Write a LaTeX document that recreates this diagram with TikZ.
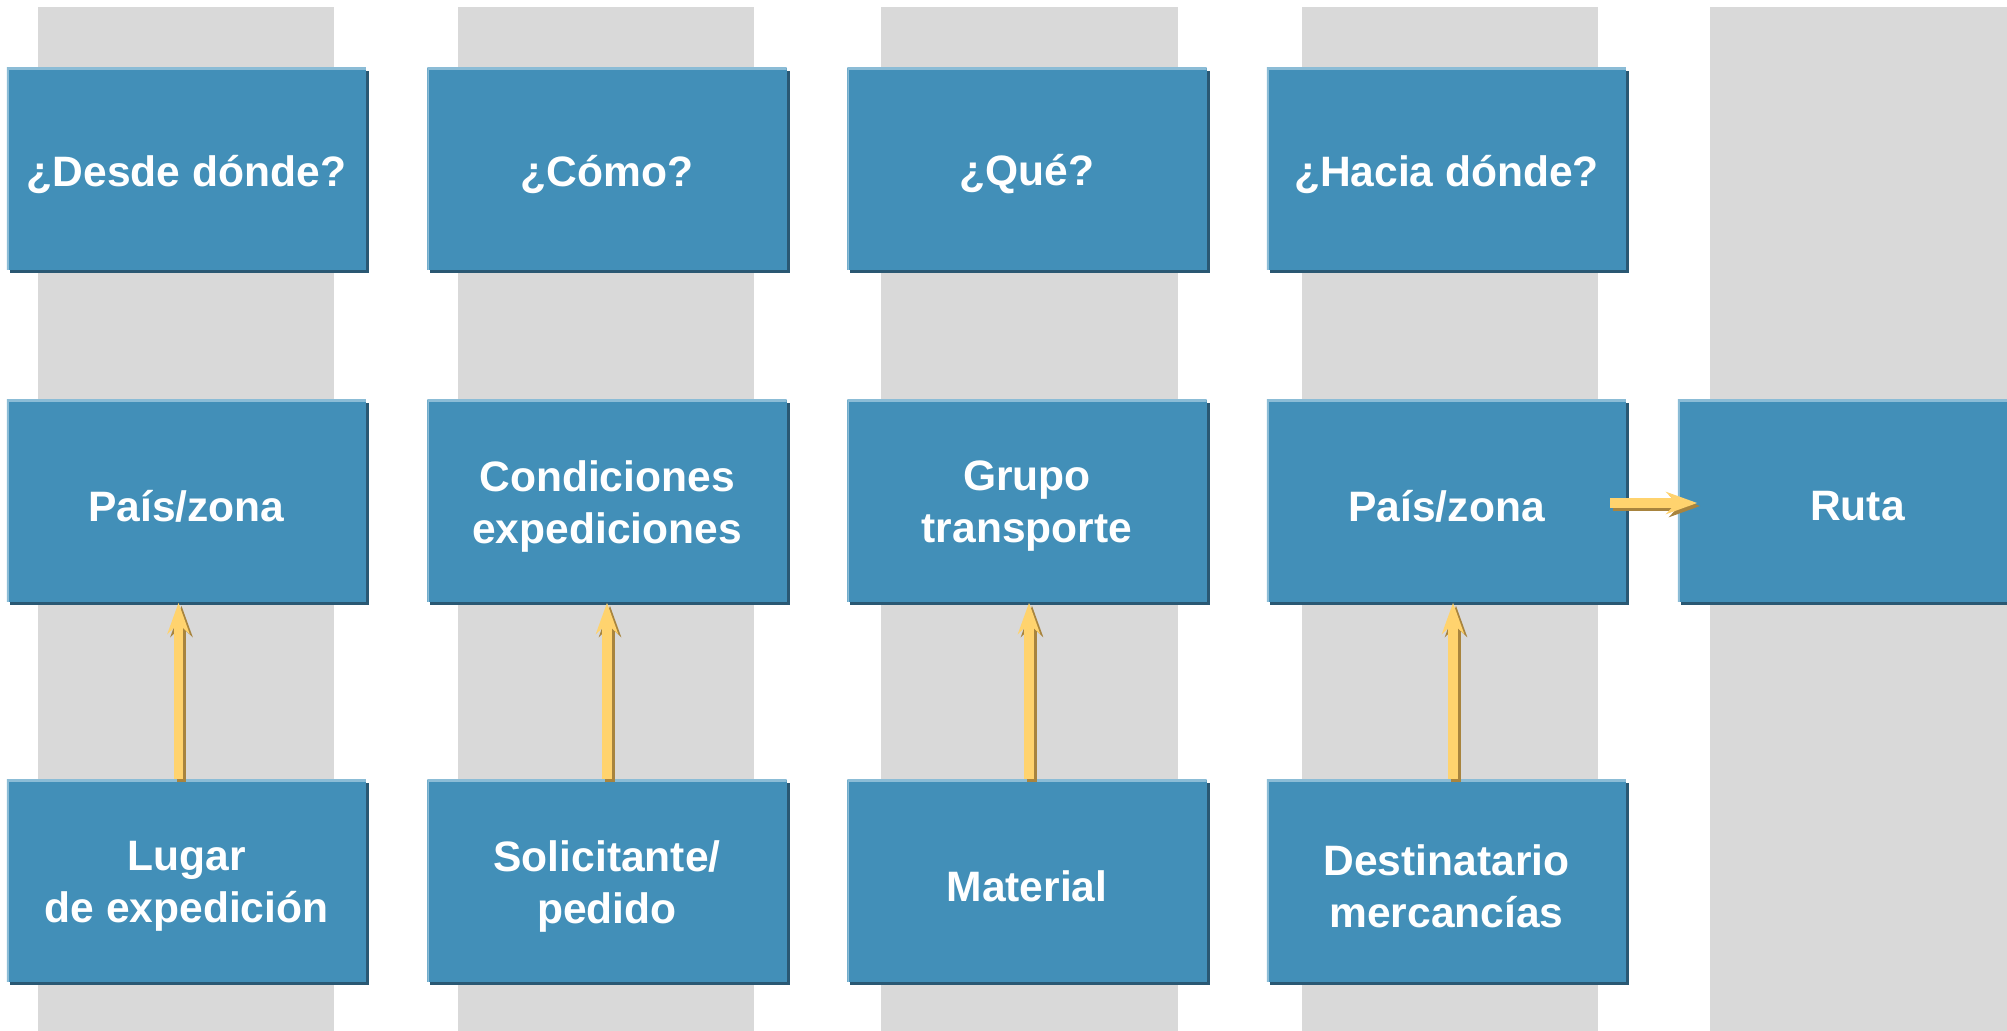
\documentclass[tikz,border=0pt]{standalone}
\usepackage{fontspec}
\setmainfont{Liberation Sans}
\usetikzlibrary{arrows.meta,shadows}
\definecolor{field}{HTML}{428FB8}
\definecolor{fieldDark}{HTML}{2A5873}
\definecolor{fieldEdge}{HTML}{8BBCD6}
\definecolor{lane}{HTML}{D9D9D9}
\definecolor{flow}{HTML}{FFD36E}
\definecolor{flowDark}{HTML}{A8843E}
\tikzset{lanebar/.style={fill=lane,draw=none},
  fld/.style={rectangle,fill=field,minimum width=3.59cm,minimum height=2.02cm,inner sep=0pt,
    drop shadow={shadow xshift=0.03cm,shadow yshift=-0.03cm,fill=fieldDark,opacity=1},
    path picture={\draw[fieldEdge,line width=0.04cm] (path picture bounding box.south west)
      --(path picture bounding box.north west)--(path picture bounding box.north east);}},
  fldtext/.style={text=white,align=center,inner sep=0pt,yshift=-0.055cm,
    font=\fontsize{12.1}{14.8}\selectfont\bfseries},
  feed/.style={draw=flow,line width=0.095cm,-{Stealth[length=0.31cm,width=0.22cm,inset=0.1cm]}},
  feedShade/.style={feed,draw=flowDark}}

\begin{document}
\begin{tikzpicture}[x=0.01cm,y=-0.01cm]
  \useasboundingbox (0,0) rectangle (2007,1031);
  \fill[lanebar] (38,7) rectangle (334,1031);
  \fill[lanebar] (458,7) rectangle (754,1031);
  \fill[lanebar] (881,7) rectangle (1178,1031);
  \fill[lanebar] (1302,7) rectangle (1598,1031);
  \fill[lanebar] (1710,7) rectangle (2007,1031);
  \node[fld,label={[fldtext]center:¿Desde dónde?}] (desde) at (186.5,169) {};
  \node[fld,label={[fldtext]center:¿Cómo?}] (como) at (607,169) {};
  \node[fld,label={[fldtext]center:¿Qué?}] (que) at (1027,169) {};
  \node[fld,label={[fldtext]center:¿Hacia dónde?}] (hacia) at (1446.5,169) {};
  \node[fld,label={[fldtext]center:País/zona}] (pzOrig) at (186.5,501) {};
  \node[fld,label={[fldtext]center:Condiciones\\expediciones}] (cond) at (607,501) {};
  \node[fld,label={[fldtext]center:Grupo\\transporte}] (grupo) at (1027,501) {};
  \node[fld,label={[fldtext]center:País/zona}] (pzDest) at (1446.5,501) {};
  \node[fld,label={[fldtext]center:Ruta}] (ruta) at (1857.5,501) {};
  \node[fld,label={[fldtext]center:Lugar\\de expedición}] (lugar) at (186.5,881) {};
  \node[fld,label={[fldtext]center:Solicitante/\\pedido}] (solic) at (607,881) {};
  \node[fld,label={[fldtext]center:Material}] (material) at (1027,881) {};
  \node[fld,label={[fldtext]center:Destinatario\\mercancías}] (destin) at (1446.5,881) {};
  \draw[feedShade] ([xshift=-0.05cm,yshift=-0.03cm]lugar.north) -- ([xshift=-0.05cm,yshift=-0.03cm]pzOrig.south);
  \draw[feed] ([xshift=-0.08cm]lugar.north) -- ([xshift=-0.08cm]pzOrig.south);
  \draw[feedShade] ([xshift=0.03cm,yshift=-0.03cm]solic.north) -- ([xshift=0.03cm,yshift=-0.03cm]cond.south);
  \draw[feed] (solic.north) -- (cond.south);
  \draw[feedShade] ([xshift=0.05cm,yshift=-0.03cm]material.north) -- ([xshift=0.05cm,yshift=-0.03cm]grupo.south);
  \draw[feed] ([xshift=0.02cm]material.north) -- ([xshift=0.02cm]grupo.south);
  \draw[feedShade] ([xshift=0.095cm,yshift=-0.03cm]destin.north) -- ([xshift=0.095cm,yshift=-0.03cm]pzDest.south);
  \draw[feed] ([xshift=0.065cm]destin.north) -- ([xshift=0.065cm]pzDest.south);
  \draw[feedShade] ([xshift=-0.14cm,yshift=-0.05cm]pzDest.east) -- ([xshift=0.23cm,yshift=-0.05cm]ruta.west);
  \draw[feed] ([xshift=-0.17cm,yshift=-0.02cm]pzDest.east) -- ([xshift=0.2cm,yshift=-0.02cm]ruta.west);
\end{tikzpicture}
\end{document}
